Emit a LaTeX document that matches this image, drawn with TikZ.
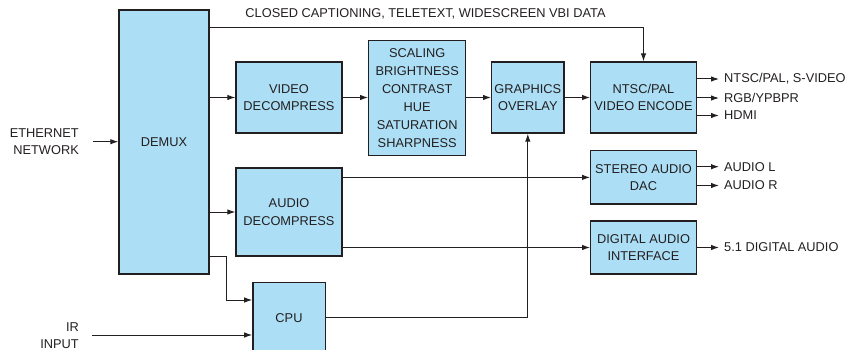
\documentclass[tikz,border=0pt]{standalone}
\usepackage{fontspec}
\setmainfont{Liberation Sans}
\usetikzlibrary{arrows.meta,calc}
\definecolor{boxfill}{HTML}{ACDFF5}
\definecolor{ink}{HTML}{231F20}
\tikzset{
  blk/.style={draw=ink, fill=boxfill, line width=1.3pt, inner sep=0pt, align=center, text=ink,
    font=\fontsize{12.8}{17.5}\selectfont},
  lbl/.style={inner sep=0pt, text=ink, font=\fontsize{12.8}{17.5}\selectfont},
  arr/.style={draw=ink, line width=1pt, -{Latex[length=8pt,width=5.5pt]}},
  ln/.style={draw=ink, line width=1pt},
}
\begin{document}
\begin{tikzpicture}[x=1pt,y=-1pt]
\useasboundingbox (0,0) rectangle (848,350);
\clip (0,0) rectangle (848,350);
% blocks
\node[blk, minimum width=90pt, minimum height=264pt] (demux) at (164,142) {DEMUX};
\node[blk, minimum width=106pt, minimum height=71pt] (vd) at (289,97.5) {VIDEO\\DECOMPRESS};
\node[blk, minimum width=97pt, minimum height=114.3pt, font=\fontsize{12.8}{18}\selectfont] (scal) at (417.2,98)
  {SCALING\\BRIGHTNESS\\CONTRAST\\HUE\\SATURATION\\SHARPNESS};
\node[blk, minimum width=72.3pt, minimum height=71pt] (gfx) at (527.8,97.5) {GRAPHICS\\OVERLAY};
\node[blk, minimum width=105.6pt, minimum height=71pt] (enc) at (643.5,97.5) {NTSC/PAL\\VIDEO ENCODE};
\node[blk, minimum width=106pt, minimum height=88pt] (ad) at (289,212) {AUDIO\\DECOMPRESS};
\node[blk, minimum width=105.6pt, minimum height=53.3pt] (dac) at (643.5,177.4) {STEREO AUDIO\\DAC};
\node[blk, minimum width=105.6pt, minimum height=53pt] (dai) at (643.5,247.5) {DIGITAL AUDIO\\INTERFACE};
\node[blk, minimum width=72.3pt, minimum height=70.8pt] (cpu) at (289,317.7) {CPU};
% labels
\node[lbl] (vbilbl) at (425.5,14) {CLOSED CAPTIONING, TELETEXT, WIDESCREEN VBI DATA};
\node[lbl, anchor=east, align=right] (eth) at (79,141.5) {ETHERNET\\NETWORK};
\node[lbl, anchor=east, align=right] (ir) at (79,335.5) {IR\\INPUT};
\node[lbl, anchor=west] (o1l) at (724,79) {NTSC/PAL, S-VIDEO};
\node[lbl, anchor=west] (o2l) at (724,98) {RGB/YPBPR};
\node[lbl, anchor=west] (o3l) at (724,115.5) {HDMI};
\node[lbl, anchor=west] (o4l) at (724,166.7) {AUDIO L};
\node[lbl, anchor=west] (o5l) at (724,185.5) {AUDIO R};
\node[lbl, anchor=west] (o6l) at (724,247.5) {5.1 DIGITAL AUDIO};
% coordinates
\coordinate (vbi) at (643.5,27.7);
\coordinate (o1) at (719,79);
\coordinate (o2) at (719,98);
\coordinate (o3) at (719,115.5);
\coordinate (o4) at (719,166.7);
\coordinate (o5) at (719,185.5);
\coordinate (o6) at (719,247.5);
\coordinate (c1) at (226.7,256);
\coordinate (c2) at (226.7,300);
\coordinate (irs) at (92,335);
\coordinate (eths) at (93,141.7);
% connectors
\draw[arr] (demux.east |- vbi) -- (vbi) -- (enc.north);
\draw[arr] (demux.east |- vd) -- (vd.west);
\draw[arr] (vd.east) -- (vd.east -| scal.west);
\draw[arr] (gfx.west -| scal.east) -- (gfx.west);
\draw[arr] (gfx.east) -- (enc.west);
\draw[arr] (enc.east |- o1) -- (o1);
\draw[arr] (enc.east |- o2) -- (o2);
\draw[arr] (enc.east |- o3) -- (o3);
\draw[arr] (demux.east |- ad) -- (ad.west);
\draw[arr] (ad.east |- dac) -- (dac.west);
\draw[arr] (ad.east |- dai) -- (dai.west);
\draw[arr] (dac.east |- o4) -- (o4);
\draw[arr] (dac.east |- o5) -- (o5);
\draw[arr] (dai.east |- o6) -- (o6);
\draw[arr] (demux.east |- c1) -- (c1) -- (c2) -- (cpu.west |- c2);
\draw[arr] (irs) -- (cpu.west |- irs);
\draw[arr] (cpu.east) -| (gfx.south);
\draw[arr] (eths) -- (demux.west |- eths);
\end{tikzpicture}
\end{document}
